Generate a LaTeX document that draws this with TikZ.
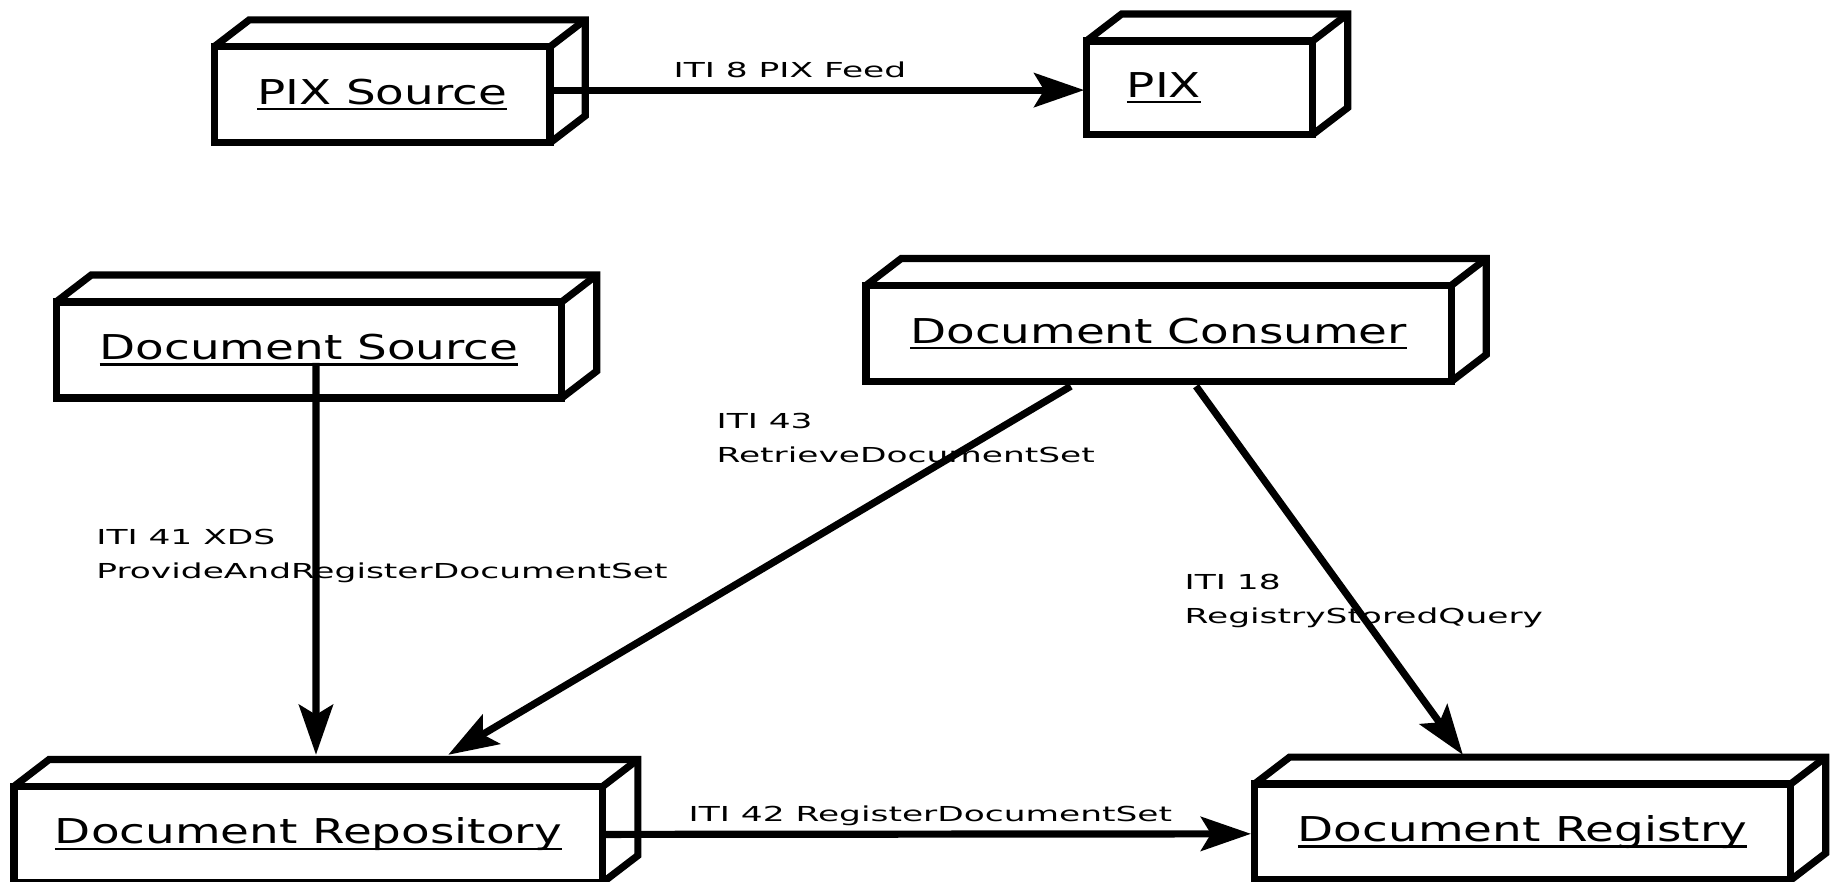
\documentclass[tikz,border=0pt]{standalone}
\usepackage{fontspec}
\usepackage{graphicx}
\setmainfont{DejaVu Sans}
\usetikzlibrary{arrows.meta,calc}
\newcommand\ulx[1]{\setbox0\hbox{\scalebox{1.37}[1]{#1}}\leavevmode\rlap{\rule[-3pt]{\wd0}{1.1pt}}\box0}
\newcommand\sx[1]{\scalebox{1.67}[1]{#1}}
\newcommand\cubedepth[1]{%
  \draw[cubeline] (#1.north west) -- ++(30,-23) -- ($(#1.north east)+(30,-23)$) -- ($(#1.south east)+(30,-23)$) -- (#1.south east);
  \draw[cubeline] (#1.north east) -- ++(30,-23);}
\begin{document}
\begin{tikzpicture}[x=0.585pt,y=-0.585pt,
  cubeline/.style={line width=3.6pt,line join=miter},
  cube/.style={draw,line width=3.6pt,rectangle,inner sep=0pt,outer sep=0pt,minimum height=48pt,font=\fontsize{17.1}{20}\selectfont},
  conn/.style={line width=3.6pt,-{Stealth[length=25pt,width=17pt,inset=5pt]}},
  lbl/.style={font=\fontsize{10.3}{17}\selectfont,inner sep=0pt,align=left}]
\useasboundingbox (0,0) rectangle (1568,753);
\node[cube,minimum width=167.9pt] (ps) at (326.5,81) {\ulx{PIX Source}};
\node[cube,minimum width=113pt,minimum height=46.8pt] (px) at (1025,75) {\ulx{PIX}\kern35.6pt};
\node[cube,minimum width=252.7pt] (ds) at (264,299) {\ulx{Document Source}};
\node[cube,minimum width=292.5pt] (dc) at (990,285) {\ulx{Document Consumer}};
\node[cube,minimum width=294.3pt] (dr) at (263.5,713) {\ulx{Document Repository}};
\node[cube,minimum width=268pt] (dg) at (1301,711) {\ulx{Document Registry}};
\cubedepth{ps}\cubedepth{px}\cubedepth{ds}\cubedepth{dc}\cubedepth{dr}\cubedepth{dg}
\draw[conn] ($(ps.east)+(0,-4)$) -- ($(px.west)+(-2,2)$);
\draw[conn] ($(ds.center)+(6,11)$) -- ($(dr.north)+(6.5,-27)$);
\draw[conn] ($(dc.south)+(-75,4)$) -- ($(dr.north)+(119.5,-27)$);
\draw[conn] ($(dc.south)+(32,4)$) -- ($(dg.north)+(-51,-25)$);
\draw[conn] (dr.east) -- ($(dg.west)+(-3,1.5)$);
\node[lbl,anchor=base] (l8) at (675,66) {\sx{ITI 8 PIX Feed}};
\node[lbl,anchor=north west] (l43) at (612,353) {\sx{ITI 43}\\\sx{RetrieveDocumentSet}};
\node[lbl,anchor=north west] (l41) at (82,452) {\sx{ITI 41 XDS}\\\sx{ProvideAndRegisterDocumentSet}};
\node[lbl,anchor=north west] (l18) at (1012,490) {\sx{ITI 18}\\\sx{RegistryStoredQuery}};
\node[lbl,anchor=base] (l42) at (795,702) {\sx{ITI 42 RegisterDocumentSet}};
\end{tikzpicture}
\end{document}
